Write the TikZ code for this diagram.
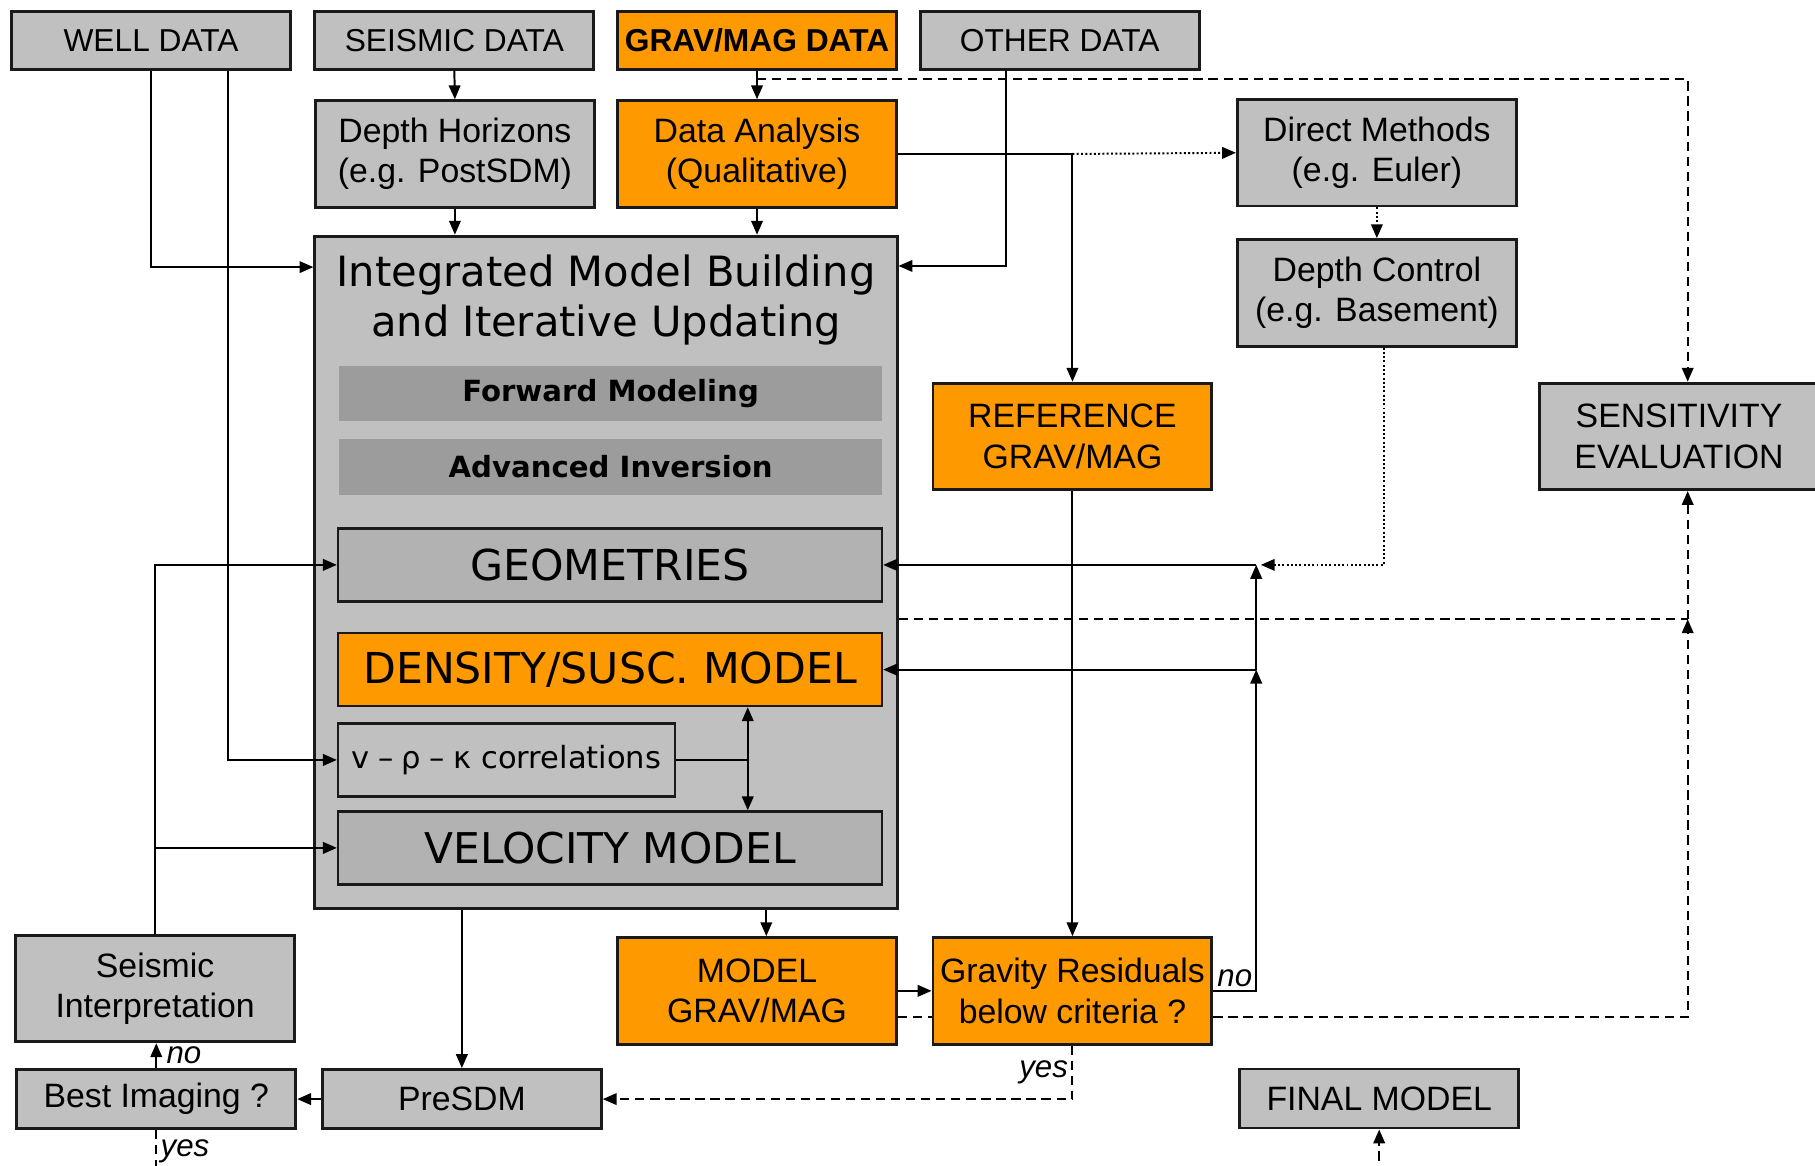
\documentclass[tikz,border=0pt]{standalone}
\usepackage{fontspec}
\setmainfont{Liberation Sans}
\newfontfamily\wide{DejaVu Sans}
\usetikzlibrary{arrows.meta,calc}
\definecolor{boxgray}{HTML}{C0C0C0}
\definecolor{bargray}{HTML}{9C9C9C}
\definecolor{fieldgray}{HTML}{B2B2B2}
\definecolor{gmorange}{HTML}{FF9900}
\definecolor{edge}{HTML}{1A1A1A}

\tikzset{
	box/.style={draw=edge, line width=1.25pt, fill=boxgray, inner sep=0pt, align=center, minimum width=120.5pt},
	databox/.style={box, minimum height=25pt, font=\fontsize{13.7}{16}\selectfont},
	stepbox/.style={box, minimum height=46pt, font=\fontsize{14.6}{17.5}\selectfont},
	linebox/.style={box, minimum height=25.5pt, font=\fontsize{14.6}{17.5}\selectfont},
	gmfill/.style={fill=gmorange},
	bar/.style={fill=bargray, minimum width=234.5pt, minimum height=24pt, inner sep=0pt, font=\wide\bfseries\fontsize{12.6}{15}\selectfont},
	field/.style={draw=edge, line width=1pt, fill=fieldgray, minimum width=235pt, minimum height=31.5pt, inner sep=0pt, font=\wide\fontsize{18.4}{22}\selectfont},
	conn/.style={line width=0.85pt, -{Triangle[length=6pt,width=5pt]}},
	dashconn/.style={conn, dash pattern=on 4pt off 2.5pt},
	dotconn/.style={conn, densely dotted},
	lab/.style={font=\itshape\fontsize{13.5}{16}\selectfont, inner sep=1.5pt},
}

\begin{document}
\begin{tikzpicture}[x=0.5pt, y=-0.5pt]
			\useasboundingbox[fill=white] (0,0) rectangle (1568,1007);

			\node[databox] (well) at (130.5,35) {WELL DATA};
			\node[databox] (seis) at (392.5,35) {SEISMIC DATA};
			\node[databox, gmfill, font=\bfseries\fontsize{13.7}{16}\selectfont] (gm) at (654,35) {GRAV/MAG DATA};
			\node[databox] (other) at (915.5,35) {OTHER DATA};

			\node[stepbox] (dh) at (393,133) {Depth Horizons\\(e.g. PostSDM)};
			\node[stepbox, gmfill] (da) at (654,133) {Data Analysis\\(Qualitative)};
			\node[stepbox] (dm) at (1189.5,132) {Direct Methods\\(e.g. Euler)};
			\node[stepbox] (dc) at (1189.5,253) {Depth Control\\(e.g. Basement)};

			\node[draw=edge, line width=1.25pt, fill=boxgray, minimum width=251.5pt, minimum height=290.5pt, inner sep=0pt] (imb) at (523.5,494.5) {};
			\node[font=\wide\fontsize{18}{21.5}\selectfont, align=center] (imbtitle) at (523.5,259) {Integrated Model Building\\and Iterative Updating};
			\node[bar] (fwd) at (527.5,340) {Forward Modeling};
			\node[bar, minimum height=24.5pt] (inv) at (527.5,403.5) {Advanced Inversion};
			\node[field] (geom) at (527,488) {GEOMETRIES};
			\node[field, fill=gmorange] (dens) at (527,578.5) {DENSITY/SUSC. MODEL};
			\node[field, fill=boxgray, minimum width=145.5pt, font=\wide\fontsize{13.2}{16}\selectfont] (vrk) at (437.5,656.5) {v\;–\;ρ\;–\;κ correlations};
			\node[field, font=\wide\fontsize{18.3}{22}\selectfont] (vel) at (527,732.5) {VELOCITY MODEL};

			\node[stepbox, gmfill] (ref) at (926.5,377) {REFERENCE\\GRAV/MAG};
			\node[stepbox] (sens) at (1450.5,377) {SENSITIVITY\\EVALUATION};

			\node[stepbox] (si) at (134,854) {Seismic\\Interpretation};
			\node[stepbox, gmfill] (mgm) at (654,856) {MODEL\\GRAV/MAG};
			\node[stepbox, gmfill] (gr) at (926.5,856) {Gravity Residuals\\below criteria ?};

			\node[linebox] (best) at (135,949.5) {Best Imaging ?};
			\node[linebox] (presdm) at (399,949.5) {PreSDM};
			\node[linebox] (fm) at (1191.5,949) {FINAL MODEL};

			\coordinate (gmsplit) at ([yshift=-3.5pt]gm.south);
			\coordinate (dasplit) at (da.east -| ref.north);
			\coordinate (noturn) at ([xshift=18.5pt]gr.east);
			\coordinate (geomj) at (noturn |- geom.east);
			\coordinate (densj) at (noturn |- dens.east);
			\coordinate (sensin) at ([xshift=3.75pt]sens.south);
			\coordinate (imbout) at ([yshift=-20.25pt]imb.east);
			\coordinate (sensj) at (imbout -| sensin);
			\coordinate (corrj) at ([xshift=31pt]vrk.east);
			\coordinate (bestend) at ([yshift=-20pt]best.south);
			\coordinate (fmstart) at ([yshift=-20pt]fm.south);

			\draw[conn] (well.south) |- ([yshift=-14pt]imb.north west);
			\draw[conn] ([xshift=33.25pt]well.south) |- (vrk.west);
			\draw[conn] (seis.south) -- (dh.north);
			\draw[conn] (dh.south) -- (dh.south |- imb.north);
			\draw[conn] (gm.south) -- (da.north);
			\draw[conn] (da.south) -- (da.south |- imb.north);
			\draw[conn] ([xshift=-23.25pt]other.south) |- ([yshift=-13.5pt]imb.north east);
			\draw[dashconn] (gmsplit) -| ([xshift=3.75pt]sens.north);
			\draw[conn] (da.east) -| (ref.north);
			\draw[dotconn] (dasplit) -- (dm.west);
			\draw[dotconn] (dm.south) -- (dc.north);
			\draw[dotconn] ([xshift=3pt]dc.south) |- ([xshift=2pt]geomj);

			\draw[conn] (gr.east) -- node[above, lab]{no} (noturn) -- (densj);
			\draw[conn] (densj) -- (geomj);
			\draw[conn] (densj) -- (dens.east);
			\draw[conn] (geomj) -- (geom.east);
			\draw[conn] (ref.south) -- (gr.north);

			\draw[line width=0.85pt] (vrk.east) -- (corrj);
			\draw[line width=0.85pt, {Triangle[length=6pt,width=5pt]}-{Triangle[length=6pt,width=5pt]}] (corrj |- dens.south) -- (corrj |- vel.north);

			\draw[conn] ([xshift=4pt]mgm.north |- imb.south) -- ([xshift=4pt]mgm.north);
			\draw[conn] (presdm.north |- imb.south) -- (presdm.north);
			\draw[conn] (mgm.east) -- (gr.west);
			\draw[dashconn, -] ([yshift=-11.5pt]mgm.east) -- ([yshift=-11.5pt]gr.west);
			\draw[dashconn] ([yshift=-11.5pt]gr.east) -| (sensj);
			\draw[dashconn] (sensj) -- (sensin);
			\draw[dashconn, -] (imbout) -- (sensj);

			\draw[dashconn] (gr.south) |- node[pos=0.25, left, lab]{yes} (presdm.east);
			\draw[conn] (presdm.west) -- (best.east);
			\draw[conn] (best.north) -- node[right, lab, inner xsep=4pt]{no} (best.north |- si.south);
			\draw[dashconn, -] (best.south) -- node[pos=0.45, right, lab]{yes} (bestend);
			\draw[conn] (si.north) |- (geom.west);
			\draw[conn] (si.north |- vel.west) -- (vel.west);
			\draw[dashconn] (fmstart) -- (fm.south);
\end{tikzpicture}
\end{document}
